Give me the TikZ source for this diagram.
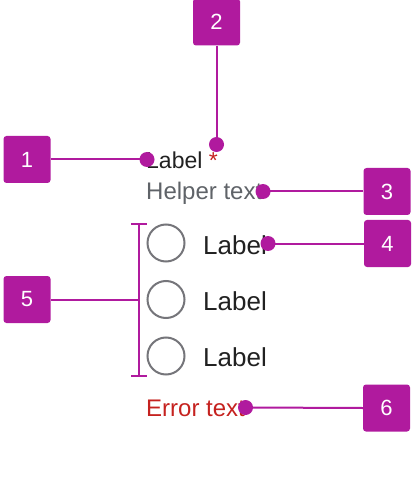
\documentclass[tikz,border=0pt]{standalone}
\usepackage{fontspec}
\setmainfont{Liberation Sans}
\definecolor{mag}{RGB}{176,26,158}
\definecolor{helpgray}{RGB}{95,99,104}
\definecolor{radiogray}{RGB}{117,117,122}
\definecolor{labelblack}{RGB}{33,33,33}
\definecolor{errred}{RGB}{197,34,31}
\begin{document}
\begin{tikzpicture}[x=1pt,y=-1pt,
  numbox/.style={fill=mag,text=white,rounded corners=3pt,minimum width=47pt,minimum height=47pt,inner sep=0pt,font=\fontsize{22}{26}\selectfont},
  pin/.style={circle,fill=mag,minimum size=15pt,inner sep=0pt},
  conn/.style={draw=mag,line width=2pt},
  radio/.style={circle,draw=radiogray,line width=2pt,minimum size=37pt,inner sep=0pt},
  txt/.style={anchor=base west,inner sep=0pt,font=\fontsize{23}{27}\selectfont},
  subtxt/.style={anchor=base west,inner sep=0pt,font=\fontsize{24}{28}\selectfont},
  rlabel/.style={anchor=base west,inner sep=0pt,text=labelblack,font=\fontsize{26}{30}\selectfont}]
\useasboundingbox (0,0) rectangle (412,502);
% texts
\node[txt,text=labelblack] (lab) at (146,168.5) {Label \textcolor{errred}{*}};
\node[subtxt,text=helpgray] (help) at (146,200) {Helper text};
\node[subtxt,text=errred] (err) at (146,416.5) {Error text};
\node[radio] (r1) at (166,243) {};
\node[radio] (r2) at (166,299.5) {};
\node[radio] (r3) at (166,356) {};
\node[rlabel] (l1) at (203,254) {Label};
\node[rlabel] (l2) at (203,310) {Label};
\node[rlabel] (l3) at (203,366) {Label};
% boxes
\node[numbox] (b1) at (27,159.5) {1};
\node[numbox] (b2) at (216.5,22) {2};
\node[numbox] (b3) at (387,191.5) {3};
\node[numbox] (b4) at (387.5,243.5) {4};
\node[numbox] (b5) at (27,299.5) {5};
\node[numbox] (b6) at (386.5,408) {6};
% dots
\coordinate (c1) at (147,159.5);
\coordinate (c2) at (216.5,144.5);
\coordinate (c3) at (263,191.5);
\coordinate (c4) at (268,243.5);
\coordinate (c6) at (245.5,407.5);
% bracket
\coordinate (bt) at (139,224);
\coordinate (bb) at (139,376);
\coordinate (bm) at (139,299.5);
\draw[conn] (bt) -- (bb);
\draw[conn] ([xshift=-8pt]bt) -- ([xshift=8pt]bt);
\draw[conn] ([xshift=-8pt]bb) -- ([xshift=8pt]bb);
% connectors
\draw[conn] (b1.east) -- (c1);
\draw[conn] (b2.south) -- (c2);
\draw[conn] (b3.west) -- (c3);
\draw[conn] (b4.west) -- (c4);
\draw[conn] (b5.east) -- (bm);
\draw[conn] (b6.west) -- (c6);
\node[pin] (d1) at (c1) {};
\node[pin] (d2) at (c2) {};
\node[pin] (d3) at (c3) {};
\node[pin] (d4) at (c4) {};
\node[pin] (d6) at (c6) {};
\end{tikzpicture}
\end{document}
